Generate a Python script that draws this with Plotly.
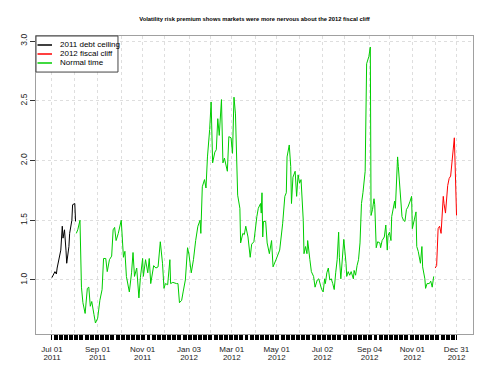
import plotly.graph_objects as go
import pandas as pd

title = "Volatility risk premium shows markets were more nervous about the 2012 fiscal cliff"

debt_dates = ["2011-07-01", "2011-07-05", "2011-07-07", "2011-07-08", "2011-07-13", "2011-07-15",
              "2011-07-16", "2011-07-18", "2011-07-20", "2011-07-21", "2011-07-24", "2011-07-25",
              "2011-07-28", "2011-07-29", "2011-08-01", "2011-08-02"]
debt_vals = [1.02, 1.07, 1.05, 1.10, 1.25, 1.45, 1.35, 1.42, 1.25, 1.14, 1.28, 1.39,
             1.50, 1.63, 1.64, 1.49]

normal_dates = [
    "2011-08-03", "2011-08-05", "2011-08-08", "2011-08-09", "2011-08-10", "2011-08-12", "2011-08-15",
    "2011-08-18", "2011-08-20", "2011-08-22", "2011-08-24", "2011-08-27", "2011-08-29", "2011-09-01",
    "2011-09-04", "2011-09-07", "2011-09-09", "2011-09-12", "2011-09-14", "2011-09-17", "2011-09-20",
    "2011-09-22", "2011-09-24", "2011-09-26", "2011-09-29", "2011-10-03", "2011-10-05", "2011-10-06",
    "2011-10-08", "2011-10-10", "2011-10-14", "2011-10-17", "2011-10-19", "2011-10-21", "2011-10-24",
    "2011-10-27", "2011-10-29", "2011-11-01", "2011-11-02", "2011-11-05", "2011-11-08", "2011-11-10",
    "2011-11-12", "2011-11-14", "2011-11-16", "2011-11-19", "2011-11-22", "2011-11-25", "2011-11-28",
    "2011-11-30", "2011-12-02", "2011-12-05", "2011-12-08", "2011-12-09", "2011-12-12", "2011-12-17",
    "2011-12-19", "2011-12-21", "2011-12-24", "2011-12-26", "2011-12-29", "2012-01-01", "2012-01-03",
    "2012-01-06", "2012-01-09", "2012-01-12", "2012-01-15", "2012-01-18", "2012-01-19", "2012-01-21",
    "2012-01-24", "2012-01-26", "2012-01-28", "2012-01-31", "2012-02-02", "2012-02-04", "2012-02-07",
    "2012-02-09", "2012-02-11", "2012-02-13", "2012-02-16", "2012-02-18", "2012-02-20", "2012-02-24",
    "2012-02-26", "2012-02-29", "2012-03-02", "2012-03-04", "2012-03-06", "2012-03-09", "2012-03-12",
    "2012-03-13", "2012-03-16", "2012-03-18", "2012-03-20", "2012-03-23", "2012-03-26", "2012-03-28",
    "2012-03-31", "2012-04-04", "2012-04-06", "2012-04-09", "2012-04-10", "2012-04-11", "2012-04-12",
    "2012-04-13", "2012-04-16", "2012-04-18", "2012-04-21", "2012-04-24", "2012-04-26", "2012-04-30",
    "2012-05-03", "2012-05-05", "2012-05-09", "2012-05-12", "2012-05-14", "2012-05-15", "2012-05-18",
    "2012-05-20", "2012-05-21", "2012-05-23", "2012-05-26", "2012-05-28", "2012-05-30", "2012-06-01",
    "2012-06-03", "2012-06-06", "2012-06-07", "2012-06-09", "2012-06-11", "2012-06-12", "2012-06-15",
    "2012-06-17", "2012-06-20", "2012-06-22", "2012-06-25", "2012-06-27", "2012-07-01", "2012-07-03",
    "2012-07-05", "2012-07-06", "2012-07-08", "2012-07-10", "2012-07-12", "2012-07-14", "2012-07-16",
    "2012-07-18", "2012-07-20", "2012-07-22", "2012-07-24", "2012-07-25", "2012-07-27", "2012-07-29",
    "2012-07-31", "2012-08-03", "2012-08-04", "2012-08-06", "2012-08-08", "2012-08-10", "2012-08-13",
    "2012-08-14", "2012-08-16", "2012-08-18", "2012-08-20", "2012-08-22", "2012-08-24", "2012-08-26",
    "2012-08-29", "2012-08-31", "2012-09-03", "2012-09-05", "2012-09-06", "2012-09-08", "2012-09-10",
    "2012-09-11", "2012-09-13", "2012-09-15", "2012-09-18", "2012-09-19", "2012-09-21", "2012-09-24",
    "2012-09-26", "2012-09-28", "2012-09-29", "2012-10-01", "2012-10-03", "2012-10-04", "2012-10-07",
    "2012-10-08", "2012-10-09", "2012-10-12", "2012-10-13", "2012-10-16", "2012-10-18", "2012-10-20",
    "2012-10-22", "2012-10-24", "2012-10-26", "2012-10-29", "2012-10-31", "2012-11-01", "2012-11-04",
    "2012-11-06", "2012-11-07", "2012-11-09", "2012-11-12", "2012-11-14", "2012-11-15", "2012-11-18",
    "2012-11-19", "2012-11-21", "2012-11-24", "2012-11-26", "2012-11-28", "2012-11-30"]
normal_vals = [
    1.39, 1.42, 1.50, 1.08, 0.94, 0.81, 0.72,
    0.93, 0.94, 0.78, 0.82, 0.71, 0.64, 0.68,
    0.83, 0.92, 1.18, 1.18, 1.07, 1.17, 1.20,
    1.42, 1.44, 1.33, 1.39, 1.50, 1.30, 1.19,
    1.24, 1.03, 0.90, 1.06, 1.23, 1.03, 1.10,
    0.85, 1.02, 1.18, 1.03, 1.17, 1.06, 1.18,
    0.97, 1.07, 1.12, 1.10, 1.11, 1.32, 1.14,
    0.93, 0.97, 0.96, 1.17, 0.97, 0.98, 0.97,
    0.97, 0.81, 0.83, 0.90, 1.00, 1.27, 1.21,
    1.06, 1.17, 1.33, 1.45, 1.50, 1.39, 1.78,
    1.84, 1.77, 2.03, 2.26, 2.49, 1.98, 2.07,
    2.09, 2.35, 2.21, 2.51, 1.98, 2.02, 1.91,
    2.20, 2.19, 2.06, 2.53, 2.39, 1.71, 1.60,
    1.31, 1.39, 1.38, 1.45, 1.36, 1.19, 1.30,
    1.32, 1.53, 1.60, 1.64, 1.56, 1.73, 1.36,
    1.49, 1.49, 1.31, 1.22, 1.33, 1.11, 1.17,
    1.22, 1.25, 1.47, 1.70, 1.73, 2.03, 2.13,
    1.95, 1.64, 1.86, 1.91, 1.70, 1.88, 1.81,
    1.84, 1.50, 1.22, 1.28, 1.22, 1.33, 1.17,
    1.07, 1.03, 0.94, 1.00, 1.01, 0.92, 0.90,
    1.01, 0.97, 1.06, 1.10, 1.00, 1.01, 0.97,
    0.92, 1.06, 1.17, 1.40, 1.19, 1.01, 1.22,
    1.34, 1.14, 1.03, 1.07, 1.04, 1.07, 1.01,
    1.08, 1.04, 1.12, 1.17, 1.31, 1.64, 1.73,
    1.91, 2.81, 2.87, 2.95, 1.54, 1.59, 1.68,
    1.63, 1.27, 1.32, 1.31, 1.27, 1.33, 1.36,
    1.46, 1.25, 1.37, 1.40, 1.33, 1.53, 1.61,
    1.66, 1.60, 2.03, 1.95, 1.64, 1.53, 1.50,
    1.49, 1.59, 1.61, 1.66, 1.70, 1.43, 1.50,
    1.57, 1.28, 1.24, 1.14, 1.28, 1.11, 1.01,
    0.93, 0.97, 0.97, 0.99, 0.94, 1.03]

cliff_dates = ["2012-12-02", "2012-12-04", "2012-12-06", "2012-12-08", "2012-12-10", "2012-12-13",
               "2012-12-14", "2012-12-16", "2012-12-19", "2012-12-21", "2012-12-23", "2012-12-25",
               "2012-12-28", "2012-12-29", "2012-12-31"]
cliff_vals = [1.10, 1.12, 1.43, 1.45, 1.39, 1.70, 1.64, 1.56, 1.79, 1.85, 1.87, 2.00,
              2.19, 1.98, 1.54]

month_ticks = ["2011-07-01", "2011-08-01", "2011-09-01", "2011-10-03", "2011-11-01", "2011-12-01",
               "2012-01-03", "2012-02-01", "2012-03-01", "2012-04-02", "2012-05-01", "2012-06-01",
               "2012-07-02", "2012-08-01", "2012-09-04", "2012-10-01", "2012-11-01", "2012-12-03",
               "2012-12-31"]
day_labels = ["Jul 01", "", "Sep 01", "", "Nov 01", "", "Jan 03", "", "Mar 01", "",
              "May 01", "", "Jul 02", "", "Sep 04", "", "Nov 01", "", "Dec 31"]
year_labels = ["2011", "", "2011", "", "2011", "", "2012", "", "2012", "",
               "2012", "", "2012", "", "2012", "", "2012", "", "2012"]
y_ticks = [1.0, 1.5, 2.0, 2.5, 3.0]

legend_names = ["2011 debt ceiling", "2012 fiscal cliff", "Normal time"]
legend_colors = ["#000000", "#ff0000", "#00cd00"]

trading_days = [d.strftime("%Y-%m-%d") for d in pd.bdate_range("2011-07-01", "2012-12-31")]

xr = ["2011-06-09 08:00", "2013-01-22 08:00"]
yr = [0.548, 3.042]

font = "Liberation Sans, Arial, sans-serif"

fig = go.Figure()
fig.add_trace(go.Scatter(x=debt_dates, y=debt_vals, mode="lines", name=legend_names[0],
                         line=dict(color=legend_colors[0], width=1), showlegend=False))
fig.add_trace(go.Scatter(x=cliff_dates, y=cliff_vals, mode="lines", name=legend_names[1],
                         line=dict(color=legend_colors[1], width=1), showlegend=False))
fig.add_trace(go.Scatter(x=normal_dates, y=normal_vals, mode="lines", name=legend_names[2],
                         line=dict(color=legend_colors[2], width=1), showlegend=False))
# invisible helper traces to carry the overlay axes
for ax in ["x2", "x3"]:
    fig.add_trace(go.Scatter(x=[xr[0]], y=[1.0], xaxis=ax, mode="markers", showlegend=False,
                             marker=dict(opacity=0), hoverinfo="skip"))

# legend drawn manually (R style compact legend box)
shapes = [dict(type="rect", xref="paper", yref="paper", x0=0, x1=0.1876, y0=0.879, y1=1.0,
               line=dict(color="#444444", width=1), fillcolor="white", layer="above")]
annotations = []
legend_y = [0.9698, 0.9396, 0.9094]
for name, col, ly in zip(legend_names, legend_colors, legend_y):
    shapes.append(dict(type="line", xref="paper", yref="paper", x0=0.0034, x1=0.0366, y0=ly, y1=ly,
                       line=dict(color=col, width=1.5), layer="above"))
    annotations.append(dict(text=name, xref="paper", yref="paper", x=0.0503, y=ly, xanchor="left",
                            yanchor="middle", showarrow=False, font=dict(size=8, family=font,
                                                                         color="#000000")))

# the page body adds an 8px margin, so the figure is sized to fit inside it
fig.update_layout(
    width=484, height=359,
    margin=dict(l=28, r=19, t=28, b=33, autoexpand=False),
    paper_bgcolor="white", plot_bgcolor="white",
    font=dict(family=font, color="#000000", size=9),
    title=dict(text="<b>" + title + "</b>", x=0.5093, xanchor="center", y=0.9694, yanchor="middle",
               font=dict(size=5.8, family=font)),
    showlegend=False,
    shapes=shapes,
    annotations=annotations,
    xaxis=dict(type="date", range=xr, tickmode="array", tickvals=month_ticks, ticktext=day_labels,
               tickangle=0, automargin=False,
               ticks="", showgrid=True, gridcolor="#dedede", griddash="dot", gridwidth=1,
               showline=True, linecolor="#a0a0a0", linewidth=1, mirror=True, zeroline=False,
               tickfont=dict(size=8, color="#222222"), ticklabelstandoff=7),
    xaxis2=dict(type="date", range=xr, overlaying="x", side="bottom", tickmode="array",
                tickvals=trading_days, ticks="outside", ticklen=5, tickwidth=1, tickcolor="#000000",
                showticklabels=False, showgrid=False, showline=False, zeroline=False, automargin=False),
    xaxis3=dict(type="date", range=xr, overlaying="x", side="bottom", tickmode="array",
                tickvals=month_ticks, ticktext=year_labels, ticks="", tickangle=0,
                showgrid=False, showline=False, zeroline=False, automargin=False,
                tickfont=dict(size=8, color="#222222"), ticklabelstandoff=17),
    yaxis=dict(range=yr, tickmode="array", tickvals=y_ticks, tickformat=".1f", tickangle=-90,
               ticks="outside", ticklen=5, tickcolor="#333333", showgrid=True, gridcolor="#dedede",
               griddash="dot", showline=True, linecolor="#a0a0a0", linewidth=1, mirror=True,
               zeroline=False, automargin=False, tickfont=dict(size=8.5, color="#222222")),
)

fig.write_html("out.html")
